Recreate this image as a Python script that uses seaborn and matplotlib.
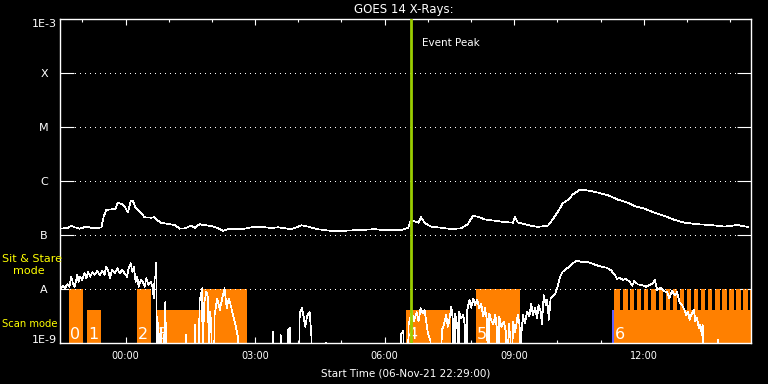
import matplotlib
matplotlib.use("Agg")
import matplotlib.pyplot as plt
import matplotlib.transforms as mtransforms
from matplotlib.ticker import FixedLocator, NullLocator, NullFormatter
import seaborn as sns
import pandas as pd

# ---------------- data ----------------
TITLE = "GOES 14 X-Rays:"
XLABEL = "Start Time (06-Nov-21 22:29:00)"
T_END = 16.0  # hours after start

# GOES long channel (1-8 A): hours after start, flux in units of 1e-7 W/m^2
long_t = [0.02, 0.19, 0.26, 0.34, 0.46, 0.61, 0.72, 0.88, 0.96, 1.01,
          1.07, 1.19, 1.28, 1.34, 1.44, 1.50, 1.57, 1.64, 1.69, 1.74,
          1.81, 1.88, 1.96, 2.11, 2.19, 2.27, 2.34, 2.50, 2.66, 2.77,
          2.89, 3.04, 3.12, 3.23, 3.39, 3.50, 3.66, 3.77, 3.89, 4.04,
          4.28, 4.51, 4.66, 4.89, 5.05, 5.28, 5.39, 5.59, 5.74, 5.97,
          6.28, 6.59, 6.97, 7.28, 7.59, 7.90, 8.06, 8.12, 8.25, 8.30,
          8.36, 8.44, 8.59, 8.83, 9.06, 9.29, 9.44, 9.56, 9.68, 9.83,
          10.06, 10.29, 10.49, 10.53, 10.60, 10.83, 11.06, 11.30, 11.41, 11.53,
          11.64, 11.76, 11.88, 12.03, 12.15, 12.30, 12.49, 12.69, 12.92, 13.15,
          13.30, 13.53, 13.77, 14.00, 14.23, 14.46, 14.77, 15.08, 15.39, 15.69, 15.93]
long_f = [1.31, 1.36, 1.49, 1.39, 1.31, 1.43, 1.36, 1.35, 1.39, 2.18,
          2.90, 2.99, 2.99, 3.96, 3.70, 3.34, 2.63, 4.32, 4.26, 3.34,
          2.90, 2.52, 2.13, 2.09, 2.13, 1.84, 1.69, 1.60, 1.53, 1.31,
          1.33, 1.49, 1.36, 1.58, 1.51, 1.47, 1.33, 1.20, 1.28, 1.29,
          1.31, 1.43, 1.41, 1.35, 1.39, 1.31, 1.31, 1.51, 1.43, 1.28,
          1.19, 1.20, 1.24, 1.28, 1.22, 1.24, 1.36, 1.84, 1.76, 1.69,
          2.13, 1.69, 1.43, 1.36, 1.29, 1.33, 1.58, 2.25, 2.18, 1.95,
          1.84, 1.74, 1.69, 2.18, 1.71, 1.53, 1.41, 1.49, 1.95, 2.70,
          3.86, 4.45, 5.67, 6.81, 6.81, 6.53, 6.00, 5.43, 4.51, 3.96,
          3.44, 3.07, 2.59, 2.25, 1.90, 1.69, 1.58, 1.53, 1.43, 1.53, 1.41]

# GOES short channel (0.5-4 A): (hours after start, flux in units of 1e-9 W/m^2);
# 0.1 marks readings below the plotted range
short_pts = [
    (0.02, 10.3), (0.07, 11.5), (0.11, 10.3), (0.17, 12.2), (0.22, 11.0), (0.26, 16.9),
    (0.30, 12.8), (0.34, 11.0), (0.40, 18.2), (0.43, 13.6), (0.47, 16.9), (0.51, 14.7),
    (0.57, 19.5), (0.61, 15.8), (0.65, 20.4), (0.70, 16.9), (0.75, 20.4), (0.80, 18.2),
    (0.86, 21.5), (0.92, 18.2), (0.98, 21.5), (1.03, 18.2), (1.07, 25.9), (1.11, 22.5),
    (1.16, 15.8), (1.20, 22.5), (1.27, 19.5), (1.33, 24.2), (1.38, 19.5), (1.44, 22.5),
    (1.48, 20.4), (1.55, 16.9), (1.59, 24.2), (1.64, 29.9), (1.67, 20.9), (1.71, 25.9),
    (1.75, 13.6), (1.79, 16.9), (1.82, 11.0), (1.87, 14.7), (1.92, 13.6), (1.96, 11.0),
    (2.00, 15.8), (2.05, 11.9), (2.10, 13.6), (2.15, 10.3), (2.17, 6.7), (2.19, 15.8),
    (2.22, 18.2), (2.23, 31.2), (2.25, 0.1), (2.27, 0.1), (2.28, 2.4), (2.31, 0.1),
    (2.34, 1.9), (2.37, 0.1), (2.44, 5.8), (2.47, 0.1), (2.90, 0.1), (2.92, 1.4),
    (2.94, 0.1), (3.11, 0.1), (3.13, 2.2), (3.15, 0.1), (3.21, 0.1), (3.23, 5.8),
    (3.29, 10.3), (3.31, 0.1), (3.33, 5.1), (3.39, 8.9), (3.43, 6.7), (3.45, 0.1),
    (3.47, 3.8), (3.50, 2.5), (3.53, 0.1), (3.56, 0.1), (3.58, 3.3), (3.64, 6.7),
    (3.70, 4.1), (3.76, 6.9), (3.81, 10.3), (3.86, 4.4), (3.91, 6.7), (3.95, 5.1),
    (4.00, 3.5), (4.06, 2.2), (4.12, 1.3), (4.15, 0.1), (4.91, 0.1), (4.93, 1.6),
    (4.95, 0.1), (5.09, 0.1), (5.11, 1.4), (5.13, 0.1), (5.26, 0.1), (5.28, 1.7),
    (5.32, 1.9), (5.35, 0.1), (5.53, 0.1), (5.55, 3.5), (5.60, 4.5), (5.64, 3.1),
    (5.68, 2.0), (5.72, 3.1), (5.78, 3.8), (5.82, 1.4), (5.85, 0.1), (6.14, 0.1),
    (6.16, 1.03), (6.18, 0.1), (7.88, 0.1), (7.90, 1.45), (7.95, 1.7), (7.98, 0.1),
    (8.05, 0.1), (8.07, 2.2), (8.15, 3.9), (8.19, 2.5), (8.26, 3.7), (8.30, 2.5),
    (8.35, 4.4), (8.40, 3.5), (8.44, 4.1), (8.48, 2.5), (8.52, 1.5), (8.58, 1.1),
    (8.61, 0.1), (8.82, 0.1), (8.84, 1.7), (8.89, 2.2), (8.94, 3.3), (8.98, 2.0),
    (9.01, 2.5), (9.06, 4.7), (9.10, 2.5), (9.12, 0.1), (9.15, 3.5), (9.20, 2.0),
    (9.22, 0.1), (9.24, 3.7), (9.29, 2.9), (9.34, 3.3), (9.38, 1.9), (9.40, 0.1),
    (9.43, 4.1), (9.48, 6.3), (9.52, 4.5), (9.57, 6.7), (9.61, 5.1), (9.66, 6.3),
    (9.71, 4.4), (9.75, 5.4), (9.80, 3.1), (9.84, 4.4), (9.89, 2.5), (9.91, 0.1),
    (9.94, 3.5), (9.98, 2.7), (10.03, 2.2), (10.08, 3.3), (10.12, 1.7), (10.14, 0.1),
    (10.17, 3.1), (10.22, 2.0), (10.28, 2.5), (10.33, 1.5), (10.35, 0.1), (10.39, 2.3),
    (10.43, 1.2), (10.45, 0.1), (10.49, 2.5), (10.54, 1.6), (10.60, 3.3), (10.64, 2.2),
    (10.66, 0.9), (10.72, 3.3), (10.76, 2.3), (10.82, 3.8), (10.87, 3.1), (10.91, 5.4),
    (10.95, 3.3), (11.00, 4.4), (11.05, 2.9), (11.08, 5.1), (11.13, 3.8), (11.16, 2.2),
    (11.20, 7.7), (11.25, 5.1), (11.28, 6.3), (11.32, 2.7), (11.36, 6.7), (11.41, 7.2),
    (11.47, 8.3), (11.51, 10.3), (11.55, 13.6), (11.59, 17.6), (11.64, 20.9), (11.72, 23.5),
    (11.80, 25.9), (11.88, 29.9), (11.95, 33.4), (12.07, 32.0), (12.18, 32.0), (12.30, 29.9),
    (12.41, 27.8), (12.53, 25.9), (12.65, 24.8), (12.75, 22.5), (12.84, 18.7), (12.90, 15.3),
    (12.96, 16.2), (13.03, 14.7), (13.11, 15.3), (13.19, 13.6), (13.25, 11.5), (13.30, 14.1),
    (13.38, 12.2), (13.46, 11.9), (13.57, 11.0), (13.65, 11.9), (13.73, 12.8), (13.77, 14.7),
    (13.83, 9.6), (13.91, 10.6), (13.98, 9.2), (14.06, 8.7), (14.11, 6.7), (14.17, 9.2),
    (14.23, 7.7), (14.29, 8.7), (14.34, 5.8), (14.40, 5.1), (14.46, 4.1), (14.50, 3.3),
    (14.54, 3.8), (14.58, 2.7), (14.63, 3.5), (14.68, 4.1), (14.71, 2.5), (14.75, 2.9),
    (14.79, 1.9), (14.83, 2.2), (14.86, 1.4), (14.88, 2.2), (14.92, 0.1), (15.21, 0.1),
    (15.23, 1.14), (15.25, 0.1), (16.0, 0.1),
]

# observing blocks (hours after start); kind: "stare" = Sit & Stare, "scan" = Scan mode
block_start = [0.208, 0.625, 1.782, 2.238, 3.264, 8.009, 9.630, 12.817]
block_end   = [0.525, 0.942, 2.106, 3.264, 4.322, 9.051, 10.648, 16.0]
block_kind  = ["stare", "scan", "stare", "scan", "stare", "scan", "stare", "scan"]
block_label = ["0", "1", "2", "3", "", "4", "5", "6"]
# repeated sit & stare rasters inside block 6
stare6_start = [12.817, 13.025, 13.201, 13.363, 13.519, 13.688, 13.859, 14.021, 14.183, 14.345,
                14.507, 14.669, 14.838, 15.000, 15.169, 15.340, 15.493, 15.664, 15.826, 15.972]
stare6_end   = [12.963, 13.141, 13.294, 13.449, 13.618, 13.796, 13.951, 14.120, 14.275, 14.444,
                14.606, 14.775, 14.937, 15.100, 15.278, 15.433, 15.602, 15.757, 15.933, 16.0]
blue_start, blue_end = 12.78, 12.817

event_peak_t = 8.12
level_names = ["A", "B", "C", "M", "X"]
level_vals = [1e-8, 1e-7, 1e-6, 1e-5, 1e-4]
major_t = [1.517, 4.517, 7.517, 10.517, 13.517]
major_lab = ["00:00", "03:00", "06:00", "09:00", "12:00"]
minor_t = [0.517 + k for k in range(16)]

STARE_TOP = 1e-8
SCAN_TOP = 4.1e-9

# ---------------- style ----------------
sns.set_theme(style="dark", rc={
    "axes.facecolor": "black", "figure.facecolor": "black",
    "axes.edgecolor": "white", "text.color": "white",
    "xtick.color": "white", "ytick.color": "white",
    "axes.labelcolor": "white", "axes.grid": False,
})
plt.rcParams["font.family"] = ["DejaVu Sans"]

W, H = 768, 384
fig = plt.figure(figsize=(W / 100, H / 100), dpi=100, facecolor="black")
ax = fig.add_axes([60 / W, 1 - 343 / H, 691 / W, 324 / H])
ax.set_facecolor("black")
ax.set_yscale("log")
ax.set_xlim(0, T_END)
ax.set_ylim(1e-9, 1e-3)

ORANGE = "#ff8000"

# blocks
for s, e, k in zip(block_start, block_end, block_kind):
    top = STARE_TOP if k == "stare" else SCAN_TOP
    ax.bar(s, top - 1e-9, width=e - s, bottom=1e-9, align="edge",
           color=ORANGE, linewidth=0, zorder=1)
for s, e in zip(stare6_start, stare6_end):
    ax.bar(s, STARE_TOP - 1e-9, width=e - s, bottom=1e-9, align="edge",
           color=ORANGE, linewidth=0, zorder=1)
ax.bar(blue_start, SCAN_TOP - 1e-9, width=blue_end - blue_start, bottom=1e-9,
       align="edge", color="#6060ff", linewidth=0, zorder=1)

# dotted level lines
for v in level_vals:
    ax.axhline(v, color="white", lw=0.72, ls=(0, (1, 5)), zorder=2, antialiased=False)

# curves
df_long = pd.DataFrame({"t": long_t, "f": [v * 1e-7 for v in long_f]})
df_short = pd.DataFrame({"t": [p[0] for p in short_pts], "f": [p[1] * 1e-9 for p in short_pts]})
sns.lineplot(data=df_short, x="t", y="f", ax=ax, color="white", lw=0.5,
             estimator=None, sort=False, zorder=3, antialiased=False)
sns.lineplot(data=df_long, x="t", y="f", ax=ax, color="white", lw=0.5,
             estimator=None, sort=False, zorder=3, antialiased=False)

# block labels
trans_lab = mtransforms.blended_transform_factory(ax.transData, ax.transAxes)
for s, lab in zip(block_start, block_label):
    if lab:
        ax.text(s + 0.02, 4 / 324, lab, transform=trans_lab, color="white",
                fontsize=11.5, ha="left", va="baseline", zorder=4)

# event peak
ax.axvline(event_peak_t, color="#9acd00", lw=2.0, zorder=5)

# axes ticks
ax.xaxis.set_major_locator(FixedLocator(major_t))
ax.set_xticklabels(major_lab)
ax.xaxis.set_minor_locator(FixedLocator(minor_t))
ax.tick_params(axis="x", which="major", direction="in", top=True, bottom=True,
               length=4.3, width=0.8, color="white", labelsize=7, labelcolor="white", pad=6)
ax.tick_params(axis="x", which="minor", direction="in", top=True, bottom=True,
               length=2.2, width=0.8, color="white")
ax.yaxis.set_major_locator(FixedLocator(level_vals))
ax.yaxis.set_minor_locator(NullLocator())
ax.yaxis.set_major_formatter(NullFormatter())
ax.tick_params(axis="y", which="major", direction="in", left=True, right=True,
               length=10, width=0.8, color="white")
for sp in ax.spines.values():
    sp.set_color("white")
    sp.set_linewidth(1.0)
    sp.set_visible(True)
ax.set_xlabel(XLABEL, fontsize=7.5, color="white", labelpad=5)
ax.set_ylabel("")


def fx(x):
    return x / W


def fy(y):
    return 1 - y / H


fig.text(fx(404), fy(9), TITLE, fontsize=8.5, ha="center", va="center", color="white")
fig.text(fx(422), fy(43), "Event Peak", fontsize=7.5, ha="left", va="center", color="white")
fig.text(fx(57), fy(19), "1E-3", fontsize=8, ha="right", va="top", color="white")
fig.text(fx(57), fy(343), "1E-9", fontsize=8, ha="right", va="baseline", color="white")
level_py = [290, 236, 182, 128, 74]
for name, py in zip(level_names, level_py):
    fig.text(fx(44), fy(py), name, fontsize=8, ha="center", va="center", color="white")
fig.text(fx(2), fy(259), "Sit & Stare", fontsize=8, ha="left", va="center", color="yellow")
fig.text(fx(13), fy(271), "mode", fontsize=8, ha="left", va="center", color="yellow")
fig.text(fx(2), fy(324), "Scan mode", fontsize=7.2, ha="left", va="center", color="yellow")

fig.savefig("out.png", dpi=100, facecolor="black")
